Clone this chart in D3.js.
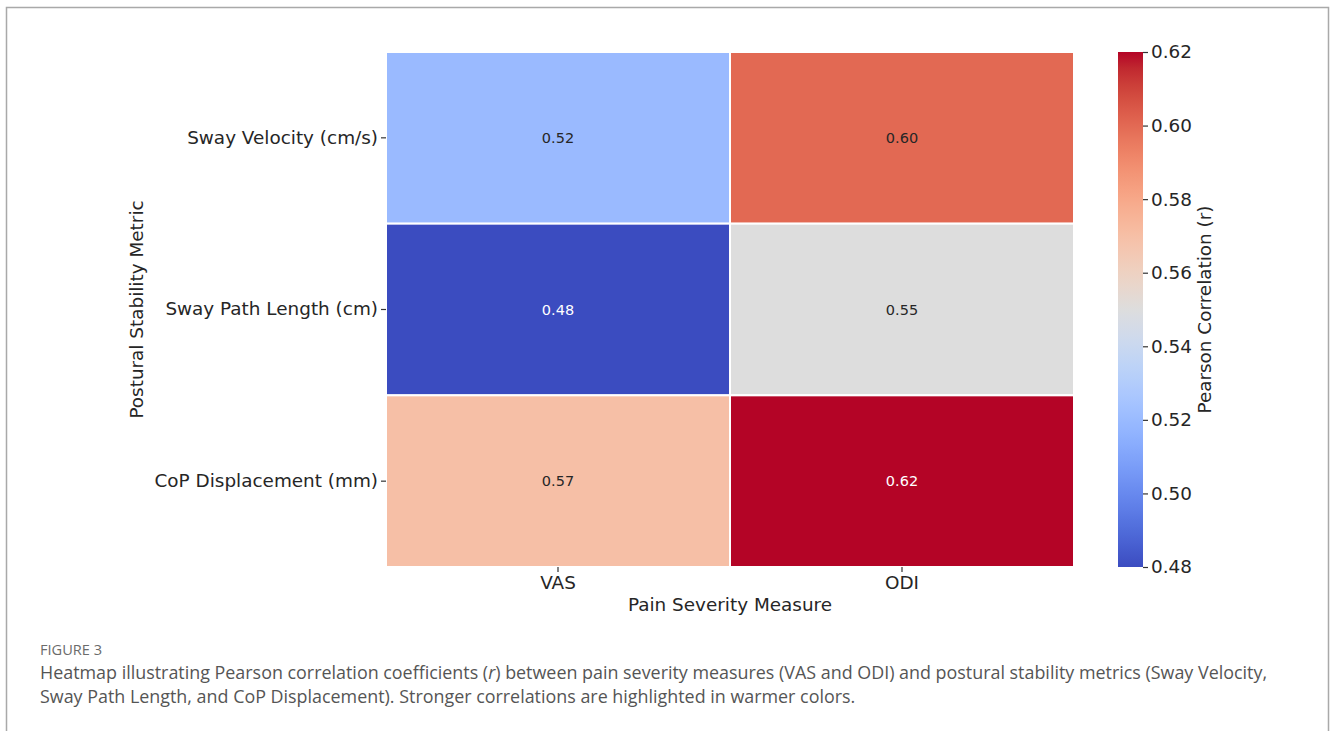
<!DOCTYPE html>
<html>
<head>
<meta charset="utf-8">
<script src="https://cdn.jsdelivr.net/npm/d3@7"></script>
<style>
  html, body { margin: 0; padding: 0; background: #fff; }
  svg { display: block; }
</style>
</head>
<body>
<svg id="chart" width="1330" height="731"></svg>
<script>
// Heatmap data: Pearson r between pain measures and postural stability metrics
const painMeasures = ["VAS", "ODI"];
const stabilityMetrics = ["Sway Velocity (cm/s)", "Sway Path Length (cm)", "CoP Displacement (mm)"];
const vasValues = [0.52, 0.48, 0.57];
const odiValues = [0.60, 0.55, 0.62];
const colorTicks = [0.48, 0.50, 0.52, 0.54, 0.56, 0.58, 0.60, 0.62];
const colorDomain = [0.48, 0.62];

// Moreland "coolwarm" diverging map, 33 evenly spaced stops
const coolwarmStops = [
  [59,76,192],[68,90,204],[77,104,215],[87,117,225],[98,130,234],[108,142,241],
  [119,154,247],[130,165,251],[141,176,254],[152,185,255],[163,194,255],[174,201,253],
  [184,208,249],[194,213,244],[204,217,238],[213,219,230],[221,221,221],[229,216,209],
  [236,211,197],[241,204,185],[245,196,173],[247,187,160],[247,177,148],[247,166,135],
  [244,154,123],[241,141,111],[236,127,99],[229,112,88],[222,96,77],[213,80,66],
  [203,62,56],[192,40,47],[180,4,38]
].map(c => d3.rgb(c[0], c[1], c[2]).formatHex());
const coolwarm = d3.piecewise(d3.interpolateRgb, coolwarmStops);

const cells = [];
stabilityMetrics.forEach((m, i) => {
  cells.push({ row: m, col: "VAS", v: vasValues[i] });
  cells.push({ row: m, col: "ODI", v: odiValues[i] });
});

const svg = d3.select("#chart");
const FONT = "'DejaVu Sans', sans-serif";
const FS = 18.4;

// outer frame
svg.append("path")
  .attr("d", "M6.5,731 L6.5,7.5 L1328.5,7.5 L1328.5,731")
  .attr("fill", "none").attr("stroke", "#a9a9a9").attr("stroke-width", 1.5);

const plot = { left: 386, right: 1074, top: 52, bottom: 567 };
const x = d3.scaleBand().domain(painMeasures).range([plot.left, plot.right]);
const y = d3.scaleBand().domain(stabilityMetrics).range([plot.top, plot.bottom]);
const color = d3.scaleSequential(coolwarm).domain(colorDomain);

// cells
svg.append("g").selectAll("rect").data(cells).join("rect")
  .attr("x", d => x(d.col))
  .attr("y", d => y(d.row))
  .attr("width", x.bandwidth())
  .attr("height", y.bandwidth())
  .attr("fill", d => color(d.v))
  .attr("stroke", "#ffffff")
  .attr("stroke-width", 2);

// cell annotations
svg.append("g").selectAll("text").data(cells).join("text")
  .attr("x", d => x(d.col) + x.bandwidth() / 2)
  .attr("y", d => y(d.row) + y.bandwidth() / 2)
  .attr("dy", "0.35em")
  .attr("text-anchor", "middle")
  .attr("font-family", FONT).attr("font-size", 14.5)
  .attr("fill", d => {
    const l = d3.hsl(color(d.v)).l;
    return l < 0.5 ? "#ffffff" : "#262626";
  })
  .text(d => d3.format(".2f")(d.v));

// axes
const xAxis = svg.append("g")
  .attr("transform", `translate(0,${plot.bottom})`)
  .call(d3.axisBottom(x).tickSize(5).tickPadding(4));
const yAxis = svg.append("g")
  .attr("transform", `translate(${plot.left},0)`)
  .call(d3.axisLeft(y).tickSize(5).tickPadding(3));
[xAxis, yAxis].forEach(a => {
  a.select(".domain").remove();
  a.selectAll(".tick line").attr("stroke", "#333").attr("stroke-width", 1.2);
  a.selectAll(".tick text").attr("font-family", FONT).attr("font-size", FS).attr("fill", "#262626");
});

svg.append("text")
  .attr("x", (plot.left + plot.right) / 2).attr("y", 611)
  .attr("text-anchor", "middle")
  .attr("font-family", FONT).attr("font-size", FS).attr("fill", "#262626")
  .text("Pain Severity Measure");

svg.append("text")
  .attr("transform", `translate(143,${(plot.top + plot.bottom) / 2}) rotate(-90)`)
  .attr("text-anchor", "middle")
  .attr("font-family", FONT).attr("font-size", FS).attr("fill", "#262626")
  .text("Postural Stability Metric");

// colorbar
const cb = { left: 1118, width: 25 };
const cy = d3.scaleLinear().domain(colorDomain).range([plot.bottom, plot.top]);
const defs = svg.append("defs");
const grad = defs.append("linearGradient").attr("id", "cbgrad")
  .attr("x1", 0).attr("y1", 1).attr("x2", 0).attr("y2", 0);
d3.range(0, 1.0001, 1 / 64).forEach(t => {
  grad.append("stop").attr("offset", t).attr("stop-color", coolwarm(t));
});
svg.append("rect")
  .attr("x", cb.left).attr("y", plot.top)
  .attr("width", cb.width).attr("height", plot.bottom - plot.top)
  .attr("fill", "url(#cbgrad)");

const cAxis = svg.append("g")
  .attr("transform", `translate(${cb.left + cb.width},0)`)
  .call(d3.axisRight(cy).tickValues(colorTicks).tickFormat(d3.format(".2f")).tickSize(5).tickPadding(3));
cAxis.select(".domain").remove();
cAxis.selectAll(".tick line").attr("stroke", "#333").attr("stroke-width", 1.2);
cAxis.selectAll(".tick text").attr("font-family", FONT).attr("font-size", FS).attr("fill", "#262626");

svg.append("text")
  .attr("transform", `translate(1211,${(plot.top + plot.bottom) / 2}) rotate(-90)`)
  .attr("text-anchor", "middle")
  .attr("font-family", FONT).attr("font-size", FS).attr("fill", "#262626")
  .text("Pearson Correlation (r)");

// figure caption
const CAP = "'Open Sans', Lato, sans-serif";
svg.append("text")
  .attr("x", 40).attr("y", 655)
  .attr("font-family", CAP).attr("font-size", 14.6).attr("fill", "#6b6b6b")
  .text("FIGURE 3");

const cap1 = svg.append("text").attr("x", 40).attr("y", 679)
  .attr("font-family", CAP).attr("font-size", 17.9).attr("fill", "#555555");
cap1.append("tspan").text("Heatmap illustrating Pearson correlation coefficients (");
cap1.append("tspan").attr("font-style", "italic").text("r");
cap1.append("tspan").text(") between pain severity measures (VAS and ODI) and postural stability metrics (Sway Velocity,");

svg.append("text").attr("x", 40).attr("y", 703)
  .attr("font-family", CAP).attr("font-size", 17.9).attr("fill", "#555555")
  .text("Sway Path Length, and CoP Displacement). Stronger correlations are highlighted in warmer colors.");
</script>
</body>
</html>
